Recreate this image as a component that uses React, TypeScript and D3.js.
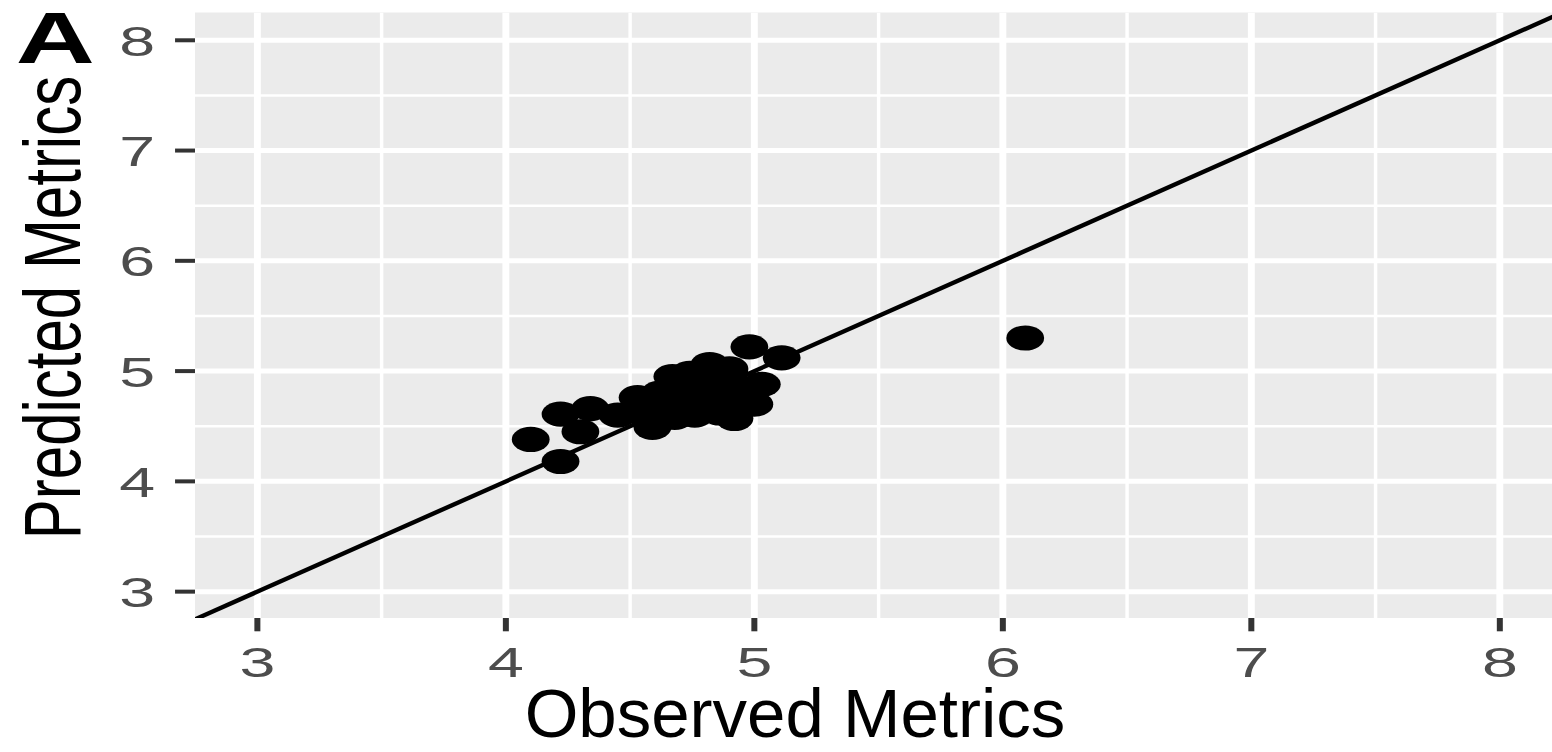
import React, { useEffect, useRef } from 'react'
import * as d3 from 'd3'

// observed vs predicted metrics
const observed = [4.10, 4.22, 4.22, 4.30, 4.34, 4.45, 4.53, 4.59, 4.60, 4.62, 4.67, 4.65, 4.70, 4.72, 4.75, 4.78, 4.80, 4.82,
    4.84, 4.86, 4.88, 4.90, 4.92, 4.94, 4.98, 5.00, 5.03, 5.11, 6.09, 4.68, 4.76, 4.57, 4.90, 4.74,
    4.55, 4.62, 4.70, 4.78, 4.85, 4.92, 4.96, 4.80, 4.70, 4.88, 4.64, 4.84]
const predicted = [4.38, 4.18, 4.61, 4.45, 4.66, 4.60, 4.76, 4.49, 4.65, 4.80, 4.95, 4.70, 4.62, 4.85, 4.75, 4.92, 4.68, 5.06,
    4.80, 4.62, 4.95, 4.72, 4.57, 4.85, 5.22, 4.70, 4.88, 5.12, 5.30, 4.58, 4.60, 4.72, 5.02, 4.98,
    4.62, 4.72, 4.78, 4.70, 4.90, 4.65, 4.78, 4.85, 4.88, 4.75, 4.58, 4.64]
const xTicks = [3, 4, 5, 6, 7, 8]
const yTicks = [3, 4, 5, 6, 7, 8]
const xMinor = [3.5, 4.5, 5.5, 6.5, 7.5]
const yMinor = [3.5, 4.5, 5.5, 6.5, 7.5]

// picture is stretched sideways, so draw in a narrower box and let the viewBox widen it
const STRETCH = 1.5
const W = 1552 / STRETCH
const H = 752
const FONT = 'Liberation Sans, Arial, sans-serif'

export default function App() {
    const ref = useRef<SVGSVGElement>(null)

    useEffect(() => {
        const svg = d3.select(ref.current)
        svg.selectAll('*').remove()

        const panel = {left: 130, right: 1041.3, top: 12.5, bottom: 618}
        const x = d3.scaleLinear().domain([2.749, 8.25]).range([panel.left, panel.right])
        const y = d3.scaleLinear().domain([2.761, 8.252]).range([panel.bottom, panel.top])

        svg.append('clipPath').attr('id', 'panelClip')
            .append('rect')
            .attr('x', panel.left).attr('y', panel.top)
            .attr('width', panel.right - panel.left).attr('height', panel.bottom - panel.top)

        svg.append('rect')
            .attr('x', panel.left).attr('y', panel.top)
            .attr('width', panel.right - panel.left).attr('height', panel.bottom - panel.top)
            .attr('fill', '#EBEBEB')

        const grid = svg.append('g').attr('clip-path', 'url(#panelClip)')
        grid.selectAll('.vminor').data(xMinor).enter().append('line')
            .attr('x1', d => x(d)).attr('x2', d => x(d))
            .attr('y1', panel.top).attr('y2', panel.bottom)
            .attr('stroke', '#fff').attr('stroke-width', 2.3)
        grid.selectAll('.hminor').data(yMinor).enter().append('line')
            .attr('y1', d => y(d)).attr('y2', d => y(d))
            .attr('x1', panel.left).attr('x2', panel.right)
            .attr('stroke', '#fff').attr('stroke-width', 2.5)
        grid.selectAll('.vmajor').data(xTicks).enter().append('line')
            .attr('x1', d => x(d)).attr('x2', d => x(d))
            .attr('y1', panel.top).attr('y2', panel.bottom)
            .attr('stroke', '#fff').attr('stroke-width', 4.6)
        grid.selectAll('.hmajor').data(yTicks).enter().append('line')
            .attr('y1', d => y(d)).attr('y2', d => y(d))
            .attr('x1', panel.left).attr('x2', panel.right)
            .attr('stroke', '#fff').attr('stroke-width', 5)

        // identity line y = x
        const line = d3.line<number>().x(d => x(d)).y(d => y(d))
        grid.append('path')
            .datum([2.5, 8.5])
            .attr('d', line)
            .attr('fill', 'none')
            .attr('stroke', '#000')
            .attr('stroke-width', 4)

        const pts = observed.map((o, i) => ({o, p: predicted[i]}))
        grid.selectAll('.pt').data(pts).enter().append('circle')
            .attr('cx', d => x(d.o)).attr('cy', d => y(d.p))
            .attr('r', 12.6)
            .attr('fill', '#000')

        // axes
        const tickLen = 13.3
        svg.selectAll('.ytick').data(yTicks).enter().append('line')
            .attr('x1', panel.left - tickLen).attr('x2', panel.left)
            .attr('y1', d => y(d)).attr('y2', d => y(d))
            .attr('stroke', '#333').attr('stroke-width', 4)
        svg.selectAll('.xtick').data(xTicks).enter().append('line')
            .attr('x1', d => x(d)).attr('x2', d => x(d))
            .attr('y1', panel.bottom).attr('y2', panel.bottom + tickLen)
            .attr('stroke', '#333').attr('stroke-width', 4)

        svg.selectAll('.ylab').data(yTicks).enter().append('text')
            .attr('x', 103.5).attr('y', d => y(d) + 15.5)
            .attr('text-anchor', 'end')
            .attr('font-family', FONT)
            .attr('font-size', 43)
            .attr('fill', '#4D4D4D')
            .text(d => d)
        svg.selectAll('.xlab').data(xTicks).enter().append('text')
            .attr('x', d => x(d)).attr('y', 677)
            .attr('text-anchor', 'middle')
            .attr('font-family', FONT)
            .attr('font-size', 43)
            .attr('fill', '#4D4D4D')
            .text(d => d)

        // the titles are not widened like the rest, so squeeze them back
        svg.append('text')
            .attr('transform', `translate(530, 737) scale(${1 / STRETCH}, 1)`)
            .attr('text-anchor', 'middle')
            .attr('font-family', FONT)
            .attr('font-size', 69)
            .attr('fill', '#000')
            .text('Observed Metrics')

        svg.append('text')
            .attr('transform', `translate(53.3, 307.5) scale(${1.34 / STRETCH}, 1) rotate(-90)`)
            .attr('text-anchor', 'middle')
            .attr('font-family', FONT)
            .attr('font-size', 60)
            .attr('fill', '#000')
            .text('Predicted Metrics')

        svg.append('text')
            .attr('x', 10.5).attr('y', 63)
            .attr('font-family', FONT)
            .attr('font-weight', 'bold')
            .attr('font-size', 73)
            .attr('fill', '#000')
            .text('A')
    }, [])

    return (
        <svg ref={ref} width={1552} height={752} viewBox={`0 0 ${W} ${H}`} preserveAspectRatio="none"
             style={{position: 'absolute', left: 0, top: 0, background: '#fff'}} />
    )
}
